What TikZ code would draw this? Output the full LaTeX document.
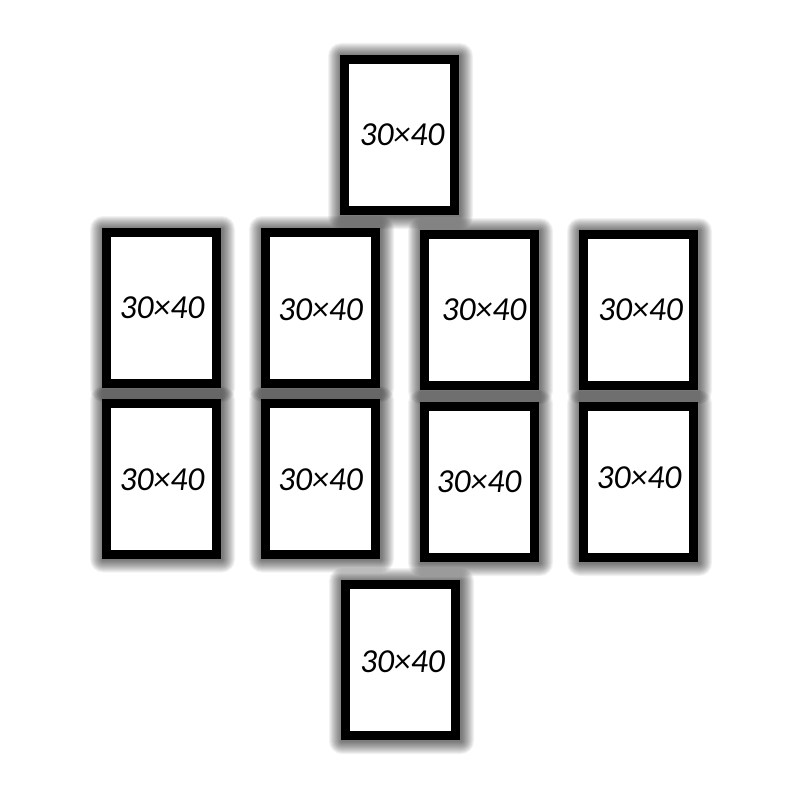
\documentclass[tikz,border=0pt]{standalone}
\usepackage{fontspec}
\setmainfont{Carlito}
\pgfdeclarelayer{paper}
\pgfdeclarelayer{bg}
\pgfsetlayers{paper,bg,main}
\tikzset{
  frame/.style={draw=black, fill=white, line width=9pt, minimum width=110pt, minimum height=151pt, inner sep=0pt},
  lbl/.style={font=\fontsize{33.6}{36}\selectfont\itshape, inner sep=0pt, text=black},
  shadowstep/.style={fill=black, opacity=0.05}
}
\newcommand\myframeshadow[1]{%
  \foreach \d in {1,...,13}{%
    \fill[shadowstep, rounded corners=\d pt]
      ([xshift=-\d pt+1pt, yshift=\d pt-1pt]#1.north west) rectangle
      ([xshift=\d pt+1pt, yshift=-\d pt-1pt]#1.south east);
  }}
\begin{document}
\begin{tikzpicture}[x=1pt,y=-1pt]
\begin{pgfonlayer}{paper}
\fill[white] (0,0) rectangle (800,800);
\end{pgfonlayer}
\useasboundingbox (0,0) rectangle (800,800);
\node[frame] (f0) at (399.5,135) {};
\node[frame] (f1) at (161.5,308) {};
\node[frame] (f2) at (320.5,308) {};
\node[frame] (f3) at (479.5,310) {};
\node[frame] (f4) at (638.5,310) {};
\node[frame] (f5) at (161.5,478.5) {};
\node[frame] (f6) at (320.5,478.5) {};
\node[frame] (f7) at (479.5,482) {};
\node[frame] (f8) at (638.5,482) {};
\node[frame] (f9) at (400.5,660) {};
\begin{pgfonlayer}{bg}
\foreach \f in {f0,f1,f2,f3,f4,f5,f6,f7,f8,f9}{\myframeshadow{\f}}
\end{pgfonlayer}
\node[lbl] (t0) at (402,135) {30×40};
\node[lbl] (t1) at (162,308) {30×40};
\node[lbl] (t2) at (320.5,310) {30×40};
\node[lbl] (t3) at (484,310) {30×40};
\node[lbl] (t4) at (640.5,310) {30×40};
\node[lbl] (t5) at (162,480) {30×40};
\node[lbl] (t6) at (320.5,480) {30×40};
\node[lbl] (t7) at (479,482) {30×40};
\node[lbl] (t8) at (639,478) {30×40};
\node[lbl] (t9) at (402.5,662) {30×40};
\end{tikzpicture}
\end{document}
